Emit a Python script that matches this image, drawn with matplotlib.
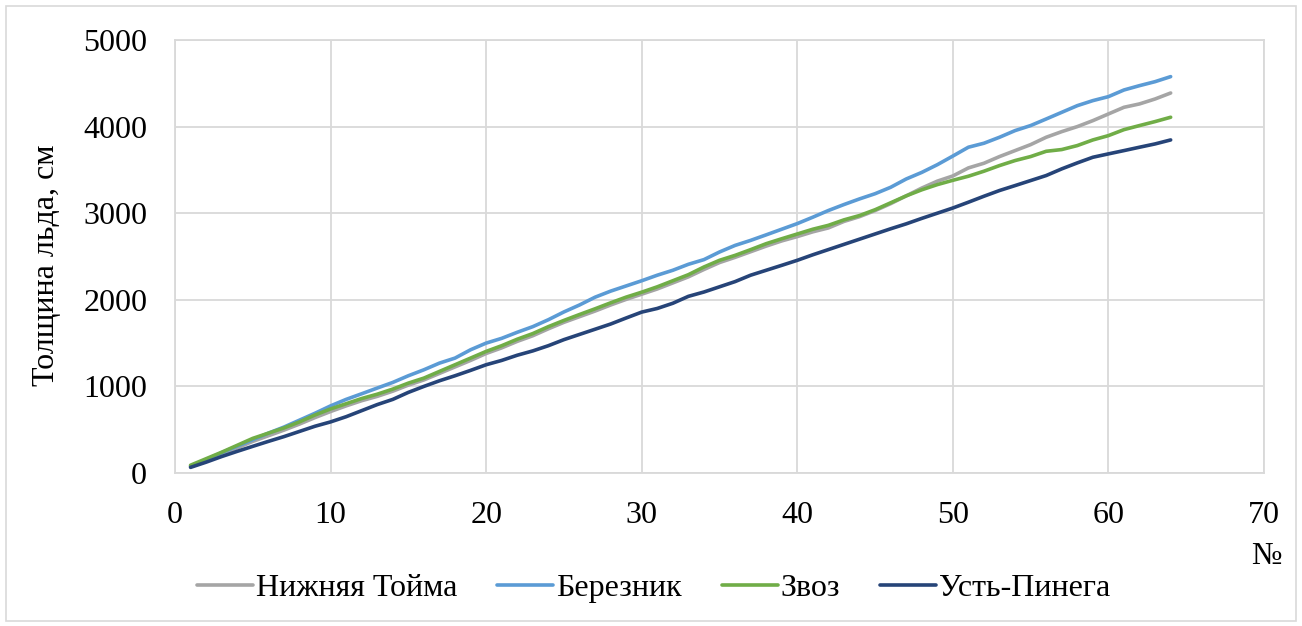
import matplotlib
matplotlib.use('Agg')
import matplotlib.pyplot as plt
from matplotlib.patches import Rectangle

plt.rcParams['font.family'] = ['Liberation Serif', 'DejaVu Serif']

x = list(range(1, 65))

names = ['Нижняя Тойма', 'Березник', 'Звоз', 'Усть-Пинега']
colors = ['#A5A5A5', '#5B9BD5', '#70AD47', '#264478']

n_toima = [75, 145, 215, 290, 365, 430, 495, 565, 640, 710,
           775, 835, 885, 945, 1015, 1075, 1150, 1225, 1300, 1380,
           1445, 1520, 1585, 1665, 1740, 1805, 1870, 1940, 2005, 2065,
           2125, 2195, 2265, 2350, 2430, 2490, 2555, 2620, 2680, 2730,
           2785, 2830, 2905, 2960, 3030, 3110, 3200, 3290, 3370, 3430,
           3523, 3577, 3654, 3723, 3792, 3877, 3942, 4000, 4069, 4146,
           4223, 4262, 4319, 4388]

bereznik = [80, 155, 235, 310, 385, 460, 530, 610, 690, 775,
            850, 915, 981, 1046, 1123, 1192, 1269, 1327, 1423, 1500,
            1555, 1625, 1690, 1770, 1860, 1940, 2030, 2100, 2160, 2220,
            2284, 2341, 2410, 2464, 2552, 2628, 2686, 2750, 2815, 2880,
            2954, 3031, 3100, 3165, 3225, 3299, 3395, 3471, 3560, 3660,
            3762, 3808, 3877, 3954, 4012, 4088, 4165, 4242, 4300, 4346,
            4423, 4473, 4519, 4577]

zvoz = [90, 165, 240, 320, 400, 460, 520, 590, 670, 740,
        800, 860, 910, 969, 1038, 1096, 1173, 1250, 1327, 1404,
        1470, 1545, 1610, 1690, 1762, 1830, 1896, 1965, 2031, 2088,
        2150, 2220, 2290, 2379, 2456, 2513, 2579, 2648, 2705, 2760,
        2815, 2860, 2923, 2973, 3040, 3120, 3200, 3270, 3330, 3380,
        3427, 3485, 3550, 3608, 3654, 3715, 3735, 3781, 3846, 3896,
        3965, 4012, 4058, 4108]

ust_pinega = [65, 125, 190, 250, 308, 365, 420, 480, 540, 590,
              650, 720, 790, 850, 931, 1000, 1065, 1123, 1185, 1250,
              1300, 1360, 1410, 1470, 1540, 1600, 1660, 1720, 1790, 1858,
              1900, 1960, 2040, 2090, 2150, 2210, 2284, 2341, 2398, 2456,
              2520, 2580, 2640, 2700, 2760, 2820, 2877, 2940, 3000, 3060,
              3127, 3196, 3262, 3319, 3377, 3435, 3512, 3581, 3646, 3685,
              3723, 3762, 3800, 3846]

series = [n_toima, bereznik, zvoz, ust_pinega]

fig = plt.figure(figsize=(13.02, 6.26), dpi=100)
ax = fig.add_axes([175/1302, 1 - 473/626, (1264-175)/1302, (473-40)/626])

for vals, name, c in zip(series, names, colors):
    ax.plot(x, vals, color=c, linewidth=2.6, label=name, solid_capstyle='round')

ax.set_xlim(0, 70)
ax.set_ylim(0, 5000)
ax.set_xticks(range(0, 71, 10))
ax.set_yticks(range(0, 5001, 1000))
ax.grid(True, color='#d9d9d9', linewidth=1.3)
ax.set_axisbelow(True)
for s in ax.spines.values():
    s.set_color('#d9d9d9')
    s.set_linewidth(1.3)
ax.tick_params(length=0, labelsize=23, pad=20)
ax.tick_params(axis='x', pad=20)

ax.set_ylabel('Толщина льда, см', fontsize=23)
ax.yaxis.set_label_coords(-0.105, 0.48)

fig.text(1266/1302, 1 - 557/626, '№', fontsize=23, ha='center', va='center')

fig.legend(loc='center', bbox_to_anchor=(0.502, 1 - 588/626), ncol=4, frameon=False,
           fontsize=23, handlelength=1.75, handletextpad=0.1, columnspacing=1.25)

fig.patches.append(Rectangle((6/1302, 5/626), 1290/1302, 615/626, transform=fig.transFigure,
                             fill=False, edgecolor='#d9d9d9', linewidth=1.2))

fig.savefig('out.png', dpi=100)
